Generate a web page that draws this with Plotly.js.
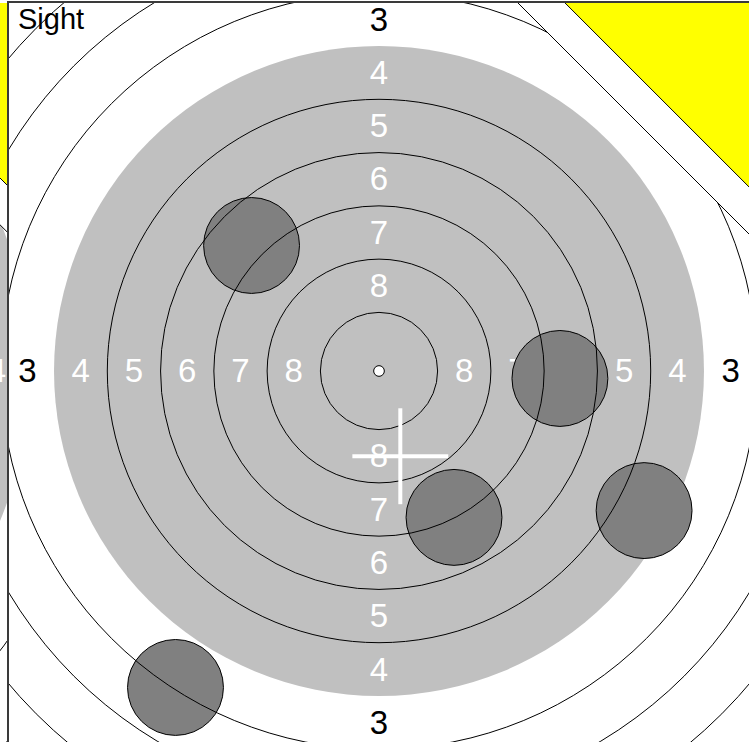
<!DOCTYPE html>
<html><head><meta charset="utf-8">
<script src="https://cdn.plot.ly/plotly-3.0.1.min.js"></script>
<style>html,body{margin:0;padding:0;overflow:hidden;background:#fff}</style>
</head><body><div id="chart" style="width:749px;height:742px"></div>
<script>
// ---- data (target in mm, 10 m air rifle style) ----
const ringNumbers = [10, 9, 8, 7, 6, 5, 4, 3, 2, 1];
const ringRadii   = [0.25, 2.75, 5.25, 7.75, 10.25, 12.75, 15.25, 17.75, 20.25, 22.75];
const labelScores    = [8, 7, 6, 5, 4, 3];
const labelDistances = [4.0, 6.5, 9.0, 11.5, 14.0, 16.5];
const shotX = [-5.98, 8.49, 3.52, 12.44, -9.55];
const shotY = [5.89, -0.35, -6.87, -6.55, -14.85];
const pelletRadius = 2.25;
const crossX = [1.0];
const crossY = [-4.0];
const panelTitle = 'Sight';
// neighbour panel (only its right edge is visible at the far left)
const stripScores = [4];
const stripDistances = [14.0];

// ---- geometry / style ----
const W = 749, H = 742;
const S = 21.31;            // px per mm, main panel
const cx = 379, cy = 371;   // pixel centre of main target
const K = 26;               // px per mm, neighbour panel
const kcx = -367;
const FONT = 'Liberation Sans, Arial, Helvetica, sans-serif';
const LABEL_SIZE = 33;
const TEXT_DROP = 3;        // px, vertical centring of digit glyphs

const xr = [-(cx - 9) / S, (W - cx) / S];
const yr = [-(H - cy) / S, (cy - 3) / S];
const xr2 = [(0 - kcx) / K, (7 - kcx) / K];
const yr2 = [-(H - cy) / K, (cy - 3) / K];

function labelTrace(xa, ya, scores, dists, dirs) {
  const x = [], y = [], t = [], c = [];
  scores.forEach((s, i) => {
    const d = dists[i];
    const all = {l: [-d, 0], r: [d, 0], t: [0, d], b: [0, -d]};
    dirs.forEach(k => {
      const p = all[k];
      x.push(p[0]); y.push(p[1]); t.push(String(s));
      c.push(s <= 3 ? '#000000' : '#ffffff');
    });
  });
  return {type: 'scatter', mode: 'text', x, y, text: t, xaxis: xa, yaxis: ya,
    textposition: 'middle center', cliponaxis: true, hoverinfo: 'skip', showlegend: false,
    textfont: {family: FONT, size: LABEL_SIZE, color: c}};
}

function panelShapes(xa, ya, xR, yT, legY, legW, withShots) {
  const sh = [];
  const R4 = ringRadii[ringNumbers.indexOf(4)];
  sh.push({type: 'circle', xref: xa, yref: ya, x0: -R4, x1: R4, y0: -R4, y1: R4,
    fillcolor: '#c0c0c0', line: {width: 0}, layer: 'below'});
  if (withShots) {
    shotX.forEach((sx, i) => {
      sh.push({type: 'circle', xref: xa, yref: ya, layer: 'above',
        x0: sx - pelletRadius, x1: sx + pelletRadius, y0: shotY[i] - pelletRadius, y1: shotY[i] + pelletRadius,
        fillcolor: '#808080', line: {color: '#000000', width: 1}});
    });
  }
  ringRadii.forEach((r, i) => {
    const n = ringNumbers[i];
    if (n === 4 || n === 10) return;
    sh.push({type: 'circle', xref: xa, yref: ya, layer: 'above', x0: -r, x1: r, y0: -r, y1: r,
      fillcolor: 'rgba(0,0,0,0)', line: {color: '#000000', width: 1}});
  });
  const r10 = ringRadii[ringNumbers.indexOf(10)];
  sh.push({type: 'circle', xref: xa, yref: ya, layer: 'above', x0: -r10, x1: r10, y0: -r10, y1: r10,
    fillcolor: '#ffffff', line: {color: '#000000', width: 1}});
  if (withShots) {
    crossX.forEach((x, i) => {
      const y = crossY[i];
      sh.push({type: 'line', xref: xa, yref: ya, layer: 'above', x0: x - pelletRadius, x1: x + pelletRadius, y0: y, y1: y,
        line: {color: '#ffffff', width: 4}});
      sh.push({type: 'line', xref: xa, yref: ya, layer: 'above', x0: x, x1: x, y0: y - pelletRadius, y1: y + pelletRadius,
        line: {color: '#ffffff', width: 4}});
    });
  }
  [[legW, '#ffffff'], [legY, '#ffff00']].forEach(([L, col]) => {
    const path = `M ${xR - L - 2} ${yT + 2} L ${xR + 2} ${yT - L - 2} L ${xR + 2} ${yT + 2} Z`;
    sh.push({type: 'path', xref: xa, yref: ya, layer: 'above', path,
      fillcolor: col, line: {color: '#000000', width: 1}});
  });
  return sh;
}

const yDomTop = 1 - 3 / H;
const axisHidden = {showgrid: false, zeroline: false, showticklabels: false, ticks: '', fixedrange: true};

const data = [
  labelTrace('x2', 'y4', stripScores, stripDistances, ['r']),
  labelTrace('x', 'y3', labelScores, labelDistances, ['l', 'r', 't', 'b'])
];

const layout = {
  width: W, height: H,
  margin: {l: 0, r: 0, t: 0, b: 0, pad: 0},
  paper_bgcolor: '#ffffff', plot_bgcolor: '#ffffff',
  showlegend: false,
  xaxis: Object.assign({}, axisHidden, {domain: [9 / W, 1], range: xr, anchor: 'y', side: 'top',
    showline: true, linecolor: '#3a3a3a', linewidth: 2}),
  yaxis: Object.assign({}, axisHidden, {domain: [0, yDomTop], range: yr, anchor: 'x',
    showline: true, linecolor: '#3a3a3a', linewidth: 2}),
  yaxis3: Object.assign({}, axisHidden, {overlaying: 'y', anchor: 'x', showline: false,
    range: [yr[0] + TEXT_DROP / S, yr[1] + TEXT_DROP / S]}),
  xaxis2: Object.assign({}, axisHidden, {domain: [0, 7 / W], range: xr2, anchor: 'y2', showline: false}),
  yaxis2: Object.assign({}, axisHidden, {domain: [0, yDomTop], range: yr2, anchor: 'x2', showline: false}),
  yaxis4: Object.assign({}, axisHidden, {overlaying: 'y2', anchor: 'x2', showline: false,
    range: [yr2[0] + TEXT_DROP / K, yr2[1] + TEXT_DROP / K]}),
  shapes: [].concat(
    panelShapes('x2', 'y2', xr2[1], yr2[1], 7.0, 8.8, false),
    panelShapes('x', 'y', xr[1], yr[1], 8.63, 10.84, true)
  ),
  annotations: [{text: panelTitle, xref: 'paper', yref: 'paper', x: 16 / W, y: 1 - 1 / H,
    xanchor: 'left', yanchor: 'top', showarrow: false,
    font: {family: FONT, size: 29, color: '#000000'}}]
};

Plotly.newPlot('chart', data, layout, {staticPlot: true, displayModeBar: false});
</script>
</body></html>
